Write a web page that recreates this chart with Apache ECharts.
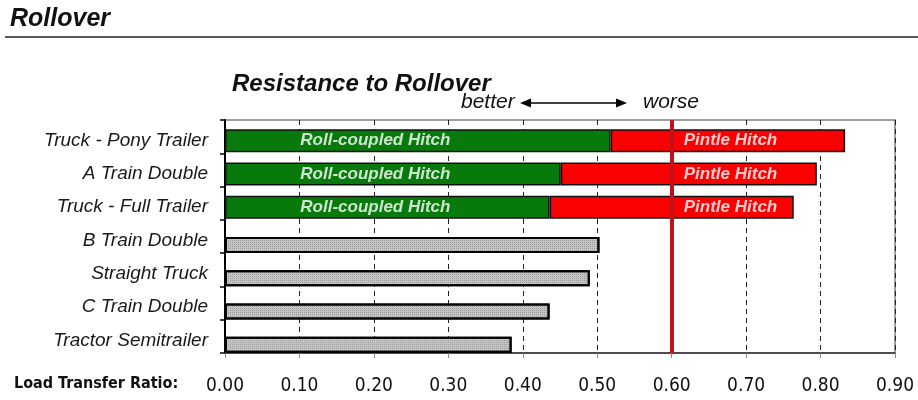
<!DOCTYPE html>
<html>
<head>
<meta charset="utf-8">
<script src="https://cdn.jsdelivr.net/npm/echarts@6/dist/echarts.min.js"></script>
<style>
  html, body { margin: 0; padding: 0; background: #fff; }
  #chart { width: 918px; height: 400px; }
</style>
</head>
<body>
<div id="chart"></div>
<script>
// vehicle types, top to bottom
const categories = [
  'Truck - Pony Trailer',
  'A Train Double',
  'Truck - Full Trailer',
  'B Train Double',
  'Straight Truck',
  'C Train Double',
  'Tractor Semitrailer'
]
// load transfer ratio with roll-coupled hitch (first three only)
const rollCoupled = [0.518, 0.451, 0.436, null, null, null, null]
// load transfer ratio with pintle hitch (end of red bar)
const pintle = [0.833, 0.795, 0.764, null, null, null, null]
// other combinations
const otherRatio = [null, null, null, 0.503, 0.490, 0.436, 0.385]
const threshold = 0.6
const axisMin = 0
const axisMax = 0.9
const axisStep = 0.1

const FONT = 'Liberation Sans, Arial, sans-serif'
const CONDENSED = 'DejaVu Sans Condensed, Liberation Sans Narrow, Arial Narrow, sans-serif'

// red segment is stacked on top of the green one
const pintleExtra = pintle.map((v, i) => (v == null ? null : +(v - rollCoupled[i]).toFixed(3)))
const rollLabels = rollCoupled.map((v, i) => (v == null ? null : [0.202, i]))
const pintleLabels = pintle.map((v, i) => (v == null ? null : [0.679, i]))

const chart = echarts.init(document.getElementById('chart'))

const gridBox = (shift) => ({ left: 225, right: 23, top: 120 + shift, bottom: 47 - shift })
const hiddenX = (gi) => ({
  gridIndex: gi, type: 'value', min: axisMin, max: axisMax, interval: axisStep, show: false
})
const hiddenY = (gi) => ({
  gridIndex: gi, type: 'category', inverse: true, data: categories,
  axisLine: { show: false }, axisTick: { show: false }, axisLabel: { show: false }
})

chart.setOption({
  animation: false,
  grid: [
    Object.assign(gridBox(0), { show: true, borderColor: '#7f7f7f', borderWidth: 1.5 }),
    gridBox(4),
    gridBox(8.5)
  ],
  xAxis: [
    {
      gridIndex: 0,
      type: 'value',
      min: axisMin,
      max: axisMax,
      interval: axisStep,
      axisLine: { show: true, lineStyle: { color: '#333', width: 1.5 } },
      axisTick: { show: true, length: 5, lineStyle: { color: '#888' } },
      axisLabel: {
        margin: 24,
        fontFamily: CONDENSED,
        fontSize: 19,
        color: '#111',
        formatter: v => v.toFixed(2)
      },
      splitLine: {
        show: true,
        lineStyle: { color: '#222', type: [5, 4], width: 1 }
      }
    },
    hiddenX(1),
    hiddenX(2)
  ],
  yAxis: [
    {
      gridIndex: 0,
      type: 'category',
      inverse: true,
      data: categories,
      axisLine: { show: true, lineStyle: { color: '#000', width: 2 } },
      axisTick: { show: true, length: 5, lineStyle: { color: '#000', width: 1.5 } },
      axisLabel: { show: false }
    },
    {
      gridIndex: 1,
      type: 'category',
      inverse: true,
      data: categories,
      axisLine: { show: false },
      axisTick: { show: false },
      axisLabel: {
        margin: 17,
        fontFamily: FONT,
        fontStyle: 'italic',
        fontSize: 19,
        color: '#1a1a1a'
      }
    },
    hiddenY(2)
  ],
  graphic: [
    {
      type: 'text', left: 10, top: 7,
      style: { text: 'Rollover', font: 'italic bold 25px ' + FONT, fill: '#111' }
    },
    {
      type: 'line', shape: { x1: 5, y1: 37, x2: 918, y2: 37 },
      style: { stroke: '#222', lineWidth: 1.5 }
    },
    {
      type: 'text', left: 232, top: 72,
      style: { text: 'Resistance to Rollover', font: 'italic bold 24px ' + FONT, fill: '#111' }
    },
    {
      type: 'text', left: 461, top: 92,
      style: { text: 'better', font: 'italic 21px ' + FONT, fill: '#111' }
    },
    {
      type: 'text', left: 643, top: 92,
      style: { text: 'worse', font: 'italic 21px ' + FONT, fill: '#111' }
    },
    {
      type: 'line', shape: { x1: 528, y1: 103, x2: 618, y2: 103 },
      style: { stroke: '#000', lineWidth: 1.5 }
    },
    {
      type: 'polygon', shape: { points: [[520, 103], [531, 98.5], [531, 107.5]] },
      style: { fill: '#000' }
    },
    {
      type: 'polygon', shape: { points: [[627, 103], [616, 98.5], [616, 107.5]] },
      style: { fill: '#000' }
    },
    {
      type: 'text', left: 14, top: 376,
      style: { text: 'Load Transfer Ratio:', font: 'bold 16px ' + CONDENSED, fill: '#111' }
    }
  ],
  series: [
    {
      // carries the threshold line in the framed grid
      type: 'line',
      xAxisIndex: 0,
      yAxisIndex: 0,
      data: categories.map(() => null),
      z: 1,
      silent: true,
      markLine: {
        symbol: 'none',
        silent: true,
        label: { show: false },
        lineStyle: { color: '#c1121c', width: 4, type: 'solid' },
        data: [{ xAxis: threshold }]
      }
    },
    {
      name: 'Roll-coupled Hitch',
      type: 'bar',
      xAxisIndex: 1,
      yAxisIndex: 1,
      stack: 'hitch',
      barWidth: 23,
      data: rollCoupled,
      itemStyle: { color: '#087a0b', borderColor: '#111', borderWidth: 1.5 },
      z: 3
    },
    {
      name: 'Pintle Hitch',
      type: 'bar',
      xAxisIndex: 1,
      yAxisIndex: 1,
      stack: 'hitch',
      barWidth: 23,
      data: pintleExtra,
      itemStyle: { color: '#fb0000', borderColor: '#111', borderWidth: 1.5 },
      z: 3
    },
    {
      name: 'Roll-coupled label',
      type: 'scatter',
      xAxisIndex: 1,
      yAxisIndex: 1,
      symbolSize: 0,
      silent: true,
      z: 5,
      data: rollLabels,
      label: {
        show: true, position: 'inside', formatter: 'Roll-coupled Hitch',
        color: '#fff', fontFamily: FONT, fontStyle: 'italic', fontWeight: 'bold', fontSize: 17
      }
    },
    {
      name: 'Pintle label',
      type: 'scatter',
      xAxisIndex: 1,
      yAxisIndex: 1,
      symbolSize: 0,
      silent: true,
      z: 5,
      data: pintleLabels,
      label: {
        show: true, position: 'inside', formatter: 'Pintle Hitch',
        color: '#fff', fontFamily: FONT, fontStyle: 'italic', fontWeight: 'bold', fontSize: 17
      }
    },
    {
      name: 'Other',
      type: 'bar',
      xAxisIndex: 2,
      yAxisIndex: 2,
      barWidth: 16,
      data: otherRatio,
      itemStyle: {
        color: '#c4c4c4',
        borderColor: '#000',
        borderWidth: 2,
        decal: {
          symbol: 'rect',
          symbolSize: 1,
          dashArrayX: [1, 1],
          dashArrayY: [1, 1],
          color: 'rgba(110,110,110,0.45)'
        }
      },
      z: 3
    }
  ]
})
</script>
</body>
</html>
